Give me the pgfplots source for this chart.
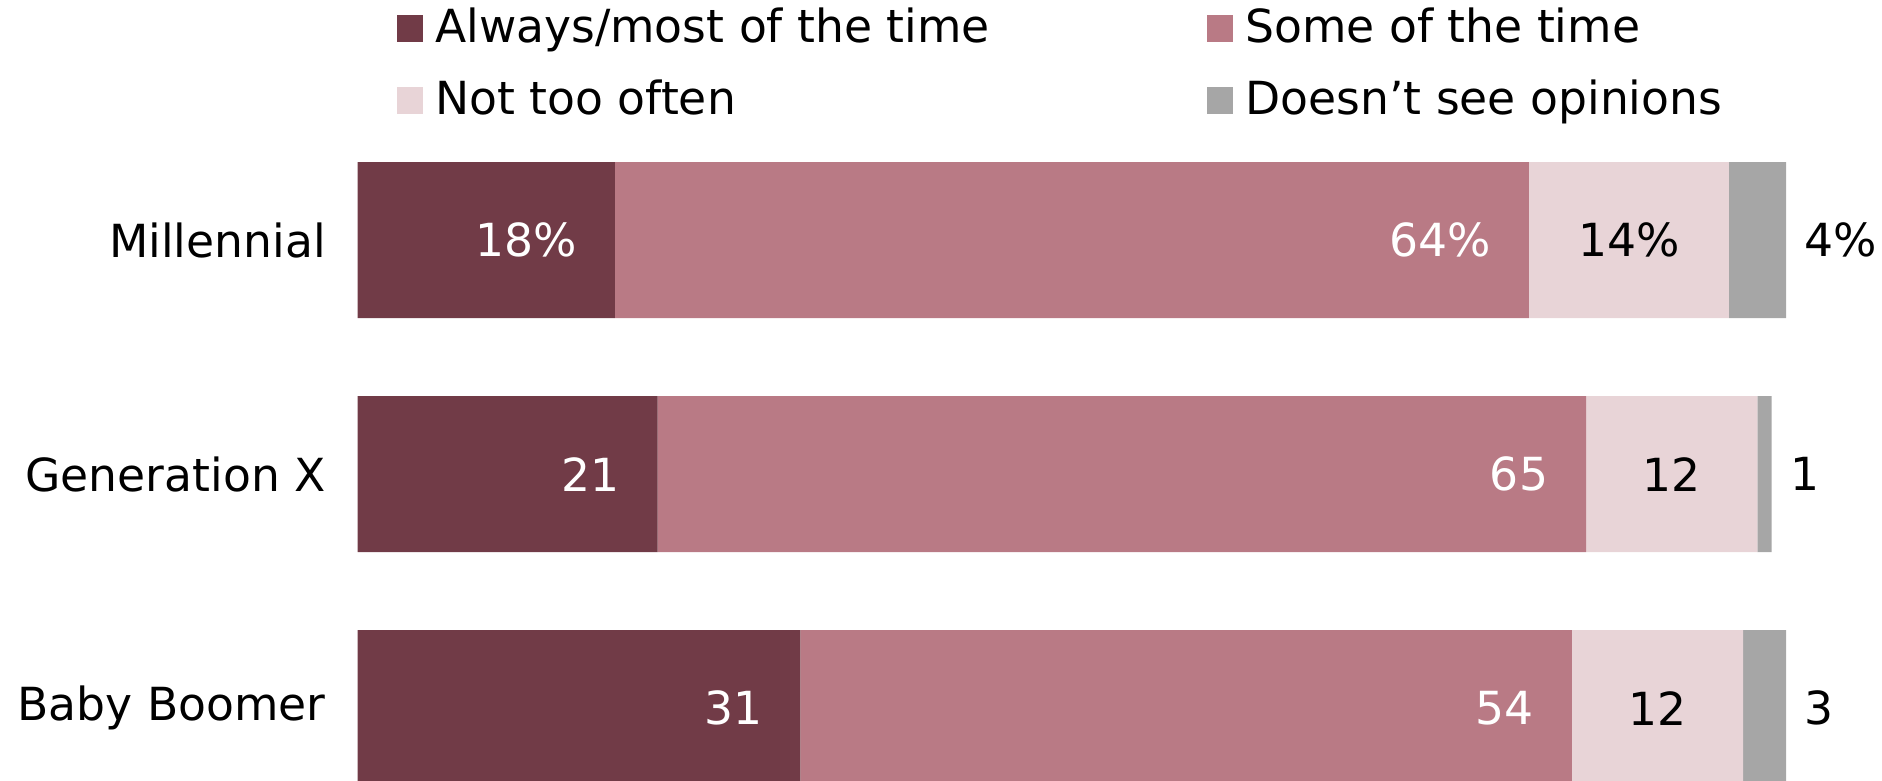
\documentclass[border=0pt]{standalone}
\usepackage{fontspec}
\setmainfont{DejaVu Sans}
\usepackage{pgfplots}
\pgfplotsset{compat=1.18}
\definecolor{cAlways}{HTML}{713B47}
\definecolor{cSome}{HTML}{B97A85}
\definecolor{cNot}{HTML}{E8D4D7}
\definecolor{cNone}{HTML}{A6A6A6}

\begin{document}
\begin{tikzpicture}[font=\fontsize{11.4}{13.6}\selectfont]
\path[use as bounding box] (0,0) rectangle (470.4pt,195pt);
\begin{axis}[
    at={(89.4pt,154.5pt)}, anchor=north west,
    xbar stacked,
    x=3.57pt, y=58.5pt, y dir=reverse,
    bar width=39pt,
    xmin=0, xmax=100, ymin=-0.3333, ymax=2.3333,
    axis line style={draw=none},
    xtick=\empty,
    ytick={0,1,2},
    yticklabels={Millennial,Generation X,Baby Boomer},
    major tick length=0pt, tick align=inside,
    yticklabel style={inner sep=0pt, anchor=east, xshift=-7.8pt},
    clip=false,
    point meta=explicit symbolic,
    nodes near coords,
    every node near coord/.append style={inner sep=0pt},
    visualization depends on={rawx \as \rawxv},
    every axis plot post/.append style={
        legend image code/.code={\fill[##1,draw=none] (0pt,0pt) rectangle (6.6pt,6.8pt);}},
    legend columns=2,
    legend style={draw=none, fill=none, inner sep=0pt,
        at={(axis description cs:0,1)}, anchor=west, xshift=9.6pt, yshift=25pt,
        row sep=9.9pt,
        nodes={inner sep=0pt, text height=8.1pt, text depth=0pt, anchor=base west},
        /tikz/every odd column/.append style={column sep=3pt},
        /tikz/every even column/.append style={column sep=12.9pt}},
]
% labels sit at the middle of each segment; shift them from there
\addplot[fill=cAlways, draw=none,
    nodes near coords style={text=white, anchor=east, xshift={1.785pt*\rawxv-9.3pt}}]
    coordinates {(18,0) [18\%] (21,1) [21] (31,2) [31]};
\addlegendentry{\makebox[180pt][l]{Always/most of the time}}

\addplot[fill=cSome, draw=none,
    nodes near coords style={text=white, anchor=east, xshift={1.785pt*\rawxv-9.3pt}}]
    coordinates {(64,0) [64\%] (65,1) [65] (54,2) [54]};
\addlegendentry{Some of the time}

\addplot[fill=cNot, draw=none,
    nodes near coords style={text=black, anchor=center}]
    coordinates {(14,0) [14\%] (12,1) [12] (12,2) [12]};
\addlegendentry{\makebox[180pt][l]{Not too often}}

\addplot[fill=cNone, draw=none,
    nodes near coords style={text=black, anchor=west, xshift={1.785pt*\rawxv+4.5pt}}]
    coordinates {(4,0) [4\%] (1,1) [1] (3,2) [3]};
\addlegendentry{Doesn't see opinions}
\end{axis}
\end{tikzpicture}
\end{document}
